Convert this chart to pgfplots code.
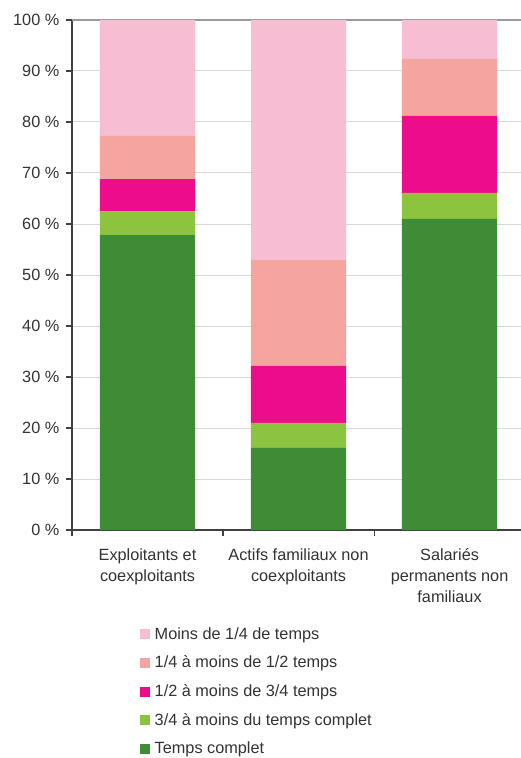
\documentclass[border=0pt]{standalone}
\usepackage{pgfplots}
\pgfplotsset{compat=1.18}
\usepackage{fontspec}
\setmainfont{Liberation Sans}
\definecolor{cPink}{HTML}{F6BDD3}
\definecolor{cSalmon}{HTML}{F5A59F}
\definecolor{cMagenta}{HTML}{EC0C8C}
\definecolor{cLight}{HTML}{8DC43F}
\definecolor{cDark}{HTML}{3E8C35}
\definecolor{txt}{HTML}{333333}
\begin{document}
\begin{tikzpicture}
\useasboundingbox (0,0) rectangle (390.75pt,568.5pt);
\begin{axis}[
  at={(54pt,171pt)}, anchor=south west,
  width=336.75pt, height=382.5pt, scale only axis,
  ybar stacked, bar width=0.63,
  xmin=-0.5, xmax=2.473, ymin=0, ymax=100,
  axis x line*=bottom, axis y line*=left,
  axis line style={draw=black!75, line width=0.8pt, -},
  ytick={0,10,...,100},
  yticklabels={0 \%,10 \%,20 \%,30 \%,40 \%,50 \%,60 \%,70 \%,80 \%,90 \%,100 \%},
  ymajorgrids, grid style={draw=black!15, line width=0.75pt},
  extra y ticks={100}, extra y tick labels={},
  extra y tick style={grid style={draw=black!40, line width=1.2pt}, major tick length=0pt},
  xtick={0,1,2},
  xticklabels={Exploitants et\\coexploitants, Actifs familiaux non\\coexploitants, Salariés\\permanents non\\familiaux},
  minor xtick={-0.5,0.5,1.5},
  tick align=outside, major tick length=4.5pt, minor tick length=4.5pt,
  major x tick style={draw=none},
  tick style={draw=black!75, line width=0.8pt},
  x tick label style={align=center, font=\fontsize{12.2}{15.7}\selectfont, text=txt, yshift=-6pt},
  y tick label style={font=\fontsize{12.2}{15}\selectfont, text=txt, xshift=-1.5pt},
  /pgf/number format/assume math mode=true,
  reverse legend,
  legend image code/.code={\fill[#1, draw=none] (0pt,-3.75pt) rectangle (7.5pt,3.75pt);},
  legend style={draw=none, fill=none, at={(0.151,-0.185)}, anchor=north west,
    font=\fontsize{12.2}{15}\selectfont, text=txt, inner sep=0pt,
    row sep=7.1pt, cells={anchor=west},
    /tikz/every odd column/.append style={column sep=1.5pt}},
]
\addplot[fill=cDark, draw=none] coordinates {(0,57.8) (1,16.1) (2,61.0)};
\addplot[fill=cLight, draw=none] coordinates {(0,4.7) (1,4.9) (2,5.1)};
\addplot[fill=cMagenta, draw=none] coordinates {(0,6.3) (1,11.2) (2,15.1)};
\addplot[fill=cSalmon, draw=none] coordinates {(0,8.5) (1,20.7) (2,11.2)};
\addplot[fill=cPink, draw=none] coordinates {(0,22.7) (1,47.1) (2,7.6)};
\legend{Temps complet, 3/4 à moins du temps complet, 1/2 à moins de 3/4 temps, 1/4 à moins de 1/2 temps, Moins de 1/4 de temps}
\end{axis}
\end{tikzpicture}
\end{document}
